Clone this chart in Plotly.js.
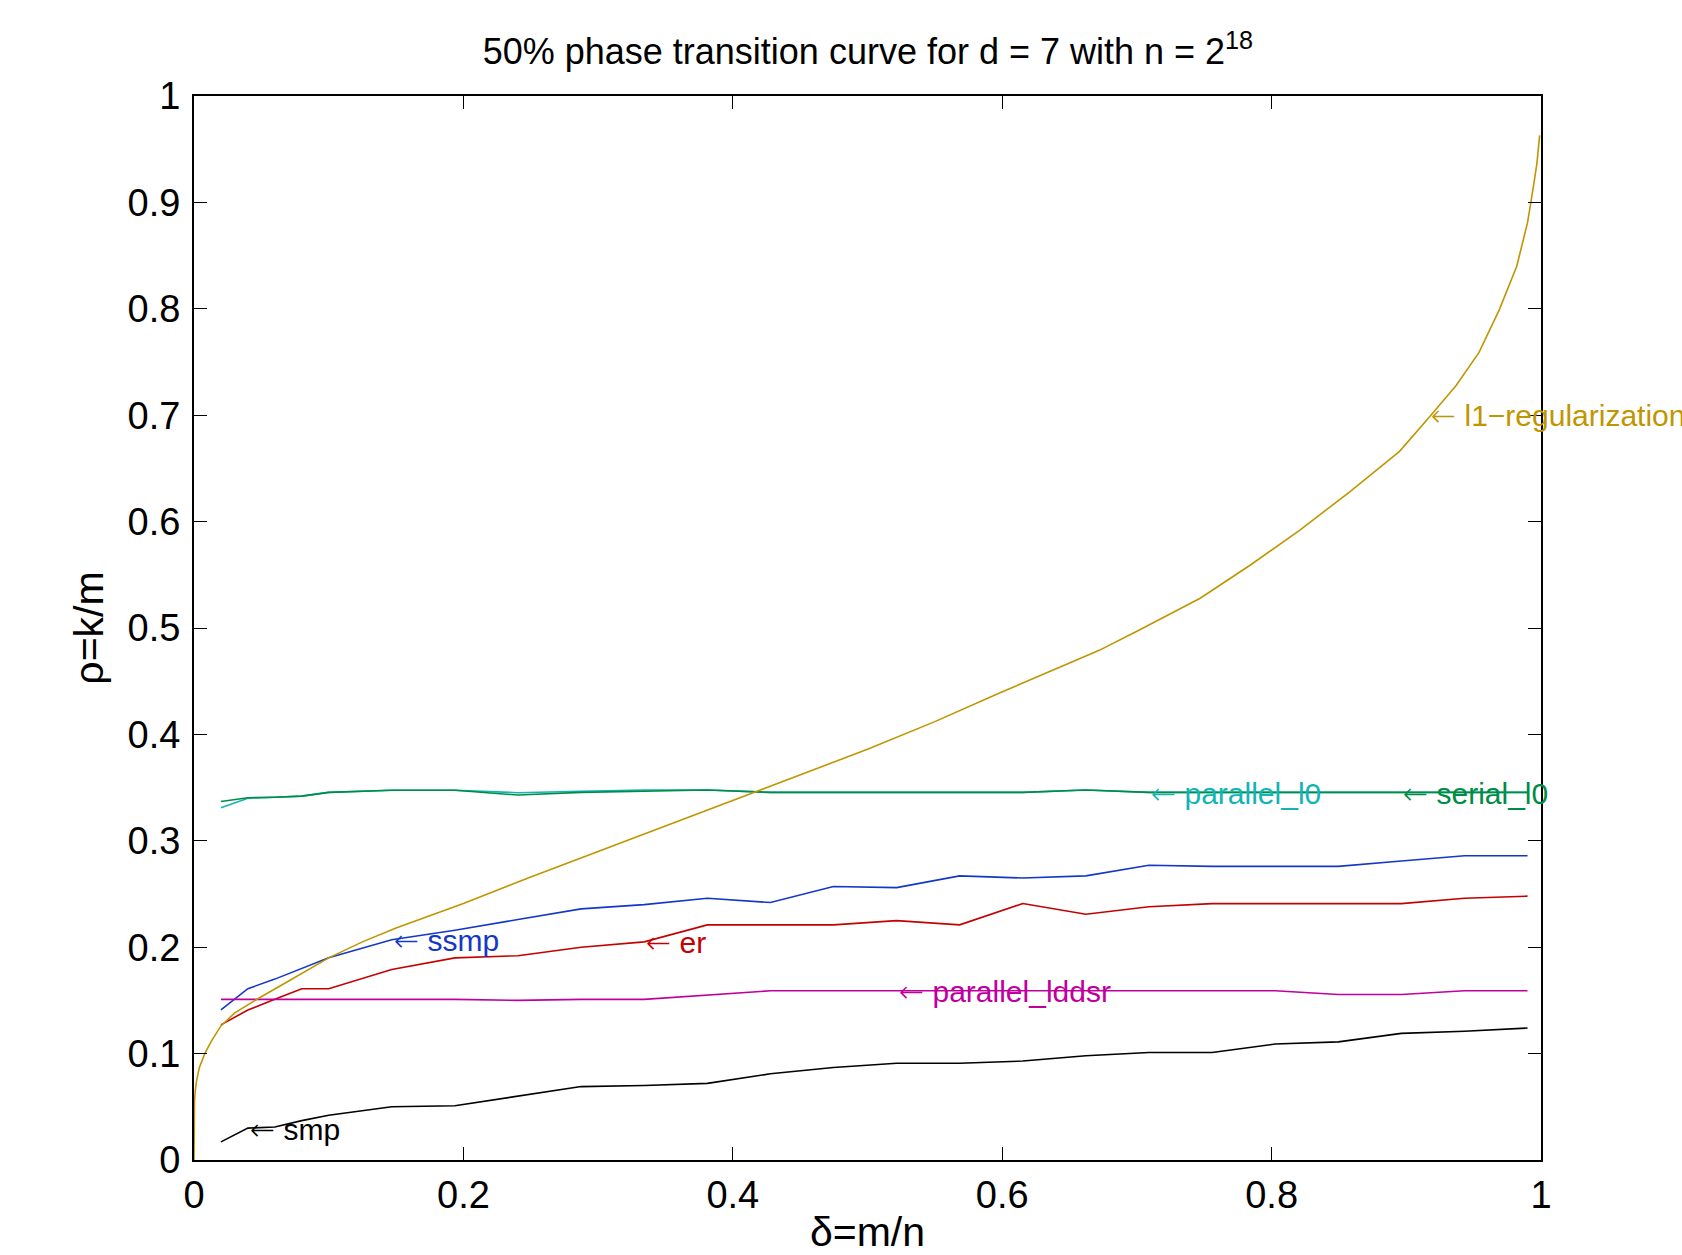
<!DOCTYPE html>
<html>
<head>
<meta charset="utf-8">
<script src="https://cdn.plot.ly/plotly-3.0.1.min.js"></script>
<style>
  html, body { margin: 0; padding: 0; background: #ffffff; }
  #chart { width: 1682px; height: 1255px; }
</style>
</head>
<body>
<div id="chart"></div>
<script>
// delta = m/n grid of the measured curves
const delta = [0.02, 0.04, 0.06, 0.08, 0.1, 0.1468, 0.1937, 0.2405, 0.2874, 0.3342, 0.3811, 0.4279,
               0.4747, 0.5216, 0.5684, 0.6153, 0.6621, 0.7089, 0.7558, 0.8026, 0.8495, 0.8963, 0.9432, 0.99];

// rho = k/m at 50% success, per algorithm
const smp = [0.017, 0.030, 0.031, 0.037, 0.042, 0.050, 0.051, 0.060, 0.069, 0.070, 0.072, 0.081,
             0.087, 0.091, 0.091, 0.093, 0.098, 0.101, 0.101, 0.109, 0.111, 0.119, 0.121, 0.124];
const ssmp = [0.141, 0.161, 0.170, 0.180, 0.190, 0.207, 0.216, 0.226, 0.236, 0.240, 0.246, 0.242,
              0.257, 0.256, 0.267, 0.265, 0.267, 0.277, 0.276, 0.276, 0.276, 0.281, 0.286, 0.286];
const er = [0.127, 0.141, 0.151, 0.161, 0.161, 0.179, 0.190, 0.192, 0.200, 0.205, 0.221, 0.221,
            0.221, 0.225, 0.221, 0.241, 0.231, 0.238, 0.241, 0.241, 0.241, 0.241, 0.246, 0.248];
const parallelLddsr = [0.151, 0.151, 0.151, 0.151, 0.151, 0.151, 0.151, 0.150, 0.151, 0.151, 0.155, 0.159,
                       0.159, 0.159, 0.159, 0.159, 0.159, 0.159, 0.159, 0.159, 0.1555, 0.1555, 0.159, 0.159];
const parallelL0 = [0.331, 0.340, 0.341, 0.342, 0.3455, 0.3475, 0.3475, 0.3452, 0.3465, 0.3477, 0.3477, 0.3455,
                    0.3455, 0.3455, 0.3455, 0.3455, 0.3477, 0.3455, 0.3455, 0.3455, 0.3455, 0.3455, 0.3455, 0.3455];
const serialL0 = [0.337, 0.3405, 0.341, 0.342, 0.3455, 0.3475, 0.3475, 0.343, 0.3455, 0.3467, 0.3477, 0.3455,
                  0.3455, 0.3455, 0.3455, 0.3455, 0.3477, 0.3455, 0.3455, 0.3455, 0.3455, 0.3455, 0.3455, 0.3455];

// l1-regularization (theoretical) curve
const l1Delta = [0, 0.0001, 0.0004, 0.001, 0.002, 0.004, 0.008, 0.013, 0.02, 0.03, 0.048, 0.07, 0.1, 0.125, 0.15,
                 0.2, 0.25, 0.3, 0.35, 0.4, 0.45, 0.5, 0.55, 0.598, 0.65, 0.672, 0.7, 0.747, 0.784, 0.821, 0.858,
                 0.895, 0.917, 0.937, 0.954, 0.969, 0.982, 0.990, 0.994, 0.997, 0.999];
const l1Rho = [0, 0.035, 0.056, 0.066, 0.075, 0.087, 0.100, 0.112, 0.126, 0.138, 0.152, 0.168, 0.190, 0.205, 0.218,
               0.241, 0.266, 0.290, 0.314, 0.338, 0.362, 0.386, 0.412, 0.439, 0.467, 0.479, 0.497, 0.528, 0.559, 0.592, 0.628,
               0.666, 0.698, 0.728, 0.759, 0.799, 0.840, 0.881, 0.912, 0.937, 0.963];

// labels: text, anchor delta, anchor rho
const labelText = ['smp', 'ssmp', 'er', 'parallel_lddsr', 'parallel_l0', 'serial_l0', 'l1\u2212regularization'];
const labelX = [0.04, 0.1468, 0.3342, 0.5216, 0.7089, 0.8963, 0.917];
const labelY = [0.029, 0.206, 0.204, 0.158, 0.344, 0.344, 0.700];

const colors = {
  smp: '#000000',
  ssmp: '#1437c8',
  er: '#c40000',
  lddsr: '#c0009c',
  pl0: '#12b4b4',
  sl0: '#008c46',
  l1: '#bf9600'
};
const labelColors = [colors.smp, colors.ssmp, colors.er, colors.lddsr, colors.pl0, colors.sl0, colors.l1];

const FONT = 'Liberation Sans, Arial, Helvetica, sans-serif';
const lw = 1.6;

const traces = [
  {x: delta, y: smp, name: 'smp', mode: 'lines', line: {color: colors.smp, width: lw}},
  {x: delta, y: ssmp, name: 'ssmp', mode: 'lines', line: {color: colors.ssmp, width: lw}},
  {x: delta, y: er, name: 'er', mode: 'lines', line: {color: colors.er, width: lw}},
  {x: delta, y: parallelLddsr, name: 'parallel_lddsr', mode: 'lines', line: {color: colors.lddsr, width: lw}},
  {x: delta, y: parallelL0, name: 'parallel_l0', mode: 'lines', line: {color: colors.pl0, width: lw}},
  {x: delta, y: serialL0, name: 'serial_l0', mode: 'lines', line: {color: colors.sl0, width: lw}},
  {x: l1Delta, y: l1Rho, name: 'l1-regularization', mode: 'lines', line: {color: colors.l1, width: lw}}
];

const annotations = labelText.map((t, i) => ({
  x: labelX[i], y: labelY[i], xref: 'x', yref: 'y',
  text: '<span style="font-family:DejaVu Sans;font-weight:200">\u2190</span> ' + t,
  showarrow: false, xanchor: 'left', yanchor: 'middle',
  font: {family: FONT, size: 30, color: labelColors[i]}
}));

const axisCommon = {
  showgrid: false, zeroline: false,
  showline: true, linecolor: '#000000', linewidth: 2,
  mirror: 'ticks', ticks: 'inside', ticklen: 13, tickwidth: 1, tickcolor: '#000000',
  tickfont: {family: FONT, size: 38, color: '#000000'}
};

const layout = {
  width: 1682, height: 1255,
  paper_bgcolor: '#ffffff', plot_bgcolor: '#ffffff',
  margin: {l: 194, r: 141, t: 96, b: 95},
  showlegend: false,
  title: {
    text: '50% phase transition curve for d = 7 with n = 2<sup>18</sup>',
    font: {family: FONT, size: 36, color: '#000000'},
    x: 0.516, xanchor: 'center', y: 0.959, yanchor: 'middle'
  },
  xaxis: Object.assign({}, axisCommon, {
    range: [0, 1], tick0: 0, dtick: 0.2,
    title: {text: '\u03b4=m/n', font: {family: FONT, size: 41, color: '#000000'}, standoff: 29}
  }),
  yaxis: Object.assign({}, axisCommon, {
    range: [0, 1], tick0: 0, dtick: 0.1, ticklabelstandoff: 4,
    title: {text: '\u03c1=k/m', font: {family: FONT, size: 41, color: '#000000'}, standoff: 11}
  }),
  annotations: annotations
};

Plotly.newPlot('chart', traces, layout, {displayModeBar: false, responsive: false});
</script>
</body>
</html>
